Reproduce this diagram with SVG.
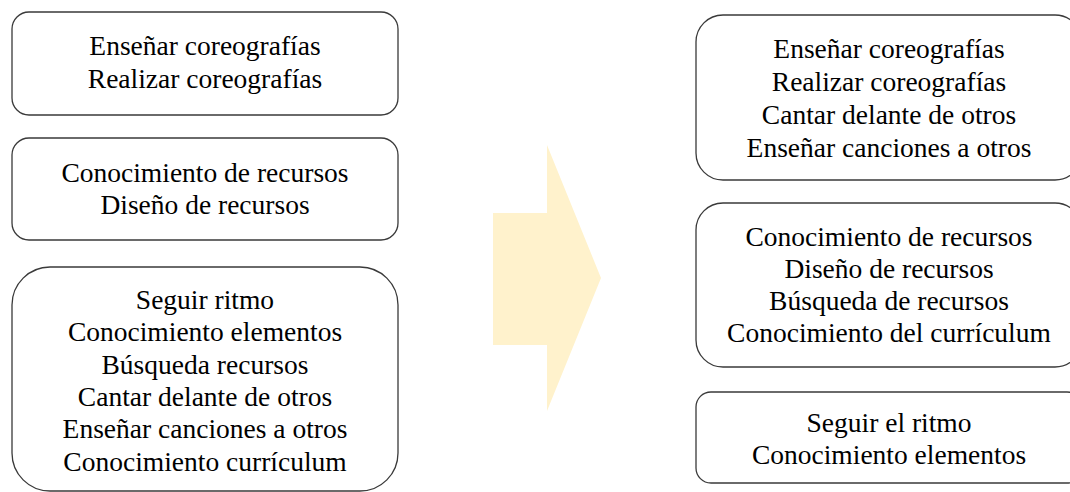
<svg xmlns="http://www.w3.org/2000/svg" width="1070" height="492" viewBox="0 0 1070 492">
<style>
.box{fill:#ffffff;stroke:#3a3a3a;stroke-width:1.3}
.t{font-family:"Liberation Serif","Times New Roman",serif;font-size:27.5px;fill:#000;text-anchor:middle}
.arrow{fill:#FFF2CC;stroke:none}
</style>
<rect width="1070" height="492" fill="#ffffff"/>
<g id="connectors">
<polygon class="arrow" points="493,213 547,213 547,145 601,278 547,411 547,345 493,345"/>
</g>
<g id="left1">
<rect class="box" x="12" y="12" width="386" height="103" rx="17"/>
<text class="t" x="205" y="55">Enseñar coreografías</text>
<text class="t" x="205" y="88">Realizar coreografías</text>
</g>
<g id="left2">
<rect class="box" x="12" y="138" width="386" height="102" rx="17"/>
<text class="t" x="205" y="182">Conocimiento de recursos</text>
<text class="t" x="205" y="214">Diseño de recursos</text>
</g>
<g id="left3">
<rect class="box" x="12" y="267" width="386" height="224" rx="38"/>
<text class="t" x="205" y="309">Seguir ritmo</text>
<text class="t" x="205" y="341">Conocimiento elementos</text>
<text class="t" x="205" y="373.5">Búsqueda recursos</text>
<text class="t" x="205" y="406">Cantar delante de otros</text>
<text class="t" x="205" y="438">Enseñar canciones a otros</text>
<text class="t" x="205" y="470.5">Conocimiento currículum</text>
</g>
<g id="right1">
<rect class="box" x="696" y="15" width="386" height="165" rx="27"/>
<text class="t" x="889" y="58">Enseñar coreografías</text>
<text class="t" x="889" y="91">Realizar coreografías</text>
<text class="t" x="889" y="124">Cantar delante de otros</text>
<text class="t" x="889" y="157">Enseñar canciones a otros</text>
</g>
<g id="right2">
<rect class="box" x="696" y="203" width="386" height="164" rx="27"/>
<text class="t" x="889" y="246">Conocimiento de recursos</text>
<text class="t" x="889" y="278">Diseño de recursos</text>
<text class="t" x="889" y="310">Búsqueda de recursos</text>
<text class="t" x="889" y="342">Conocimiento del currículum</text>
</g>
<g id="right3">
<rect class="box" x="696" y="392" width="386" height="91" rx="15"/>
<text class="t" x="889" y="432">Seguir el ritmo</text>
<text class="t" x="889" y="464">Conocimiento elementos</text>
</g>
</svg>
